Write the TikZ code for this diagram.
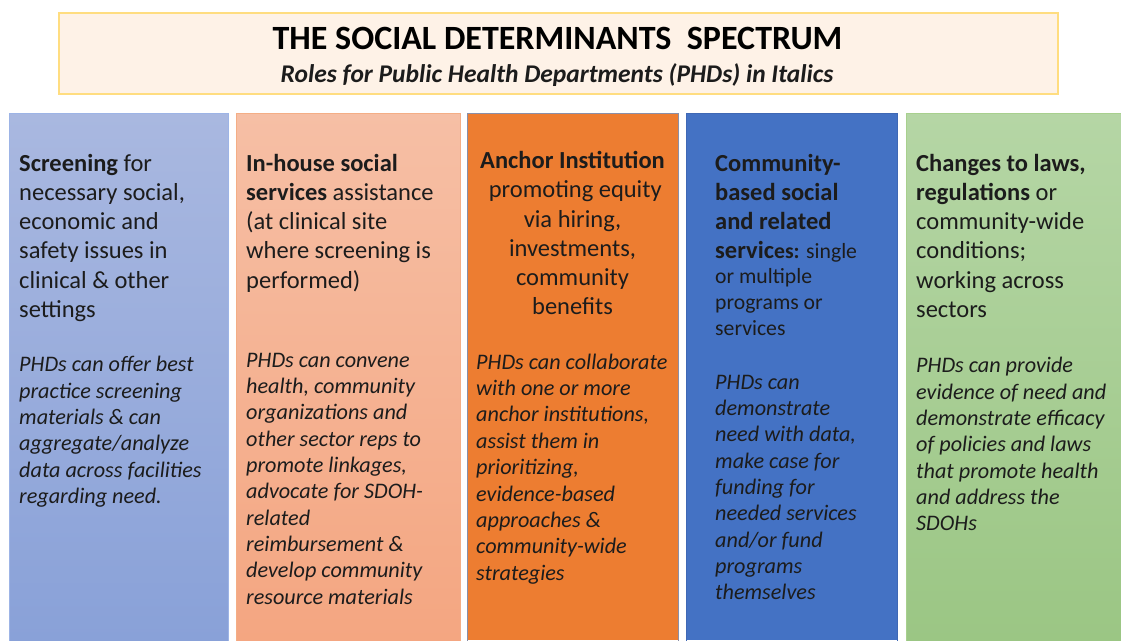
\documentclass[tikz,border=0pt]{standalone}
\usepackage{fontspec}
\setmainfont{Carlito}
\definecolor{txt}{HTML}{1C1C1C}
\definecolor{tfill}{HTML}{FEF2E7}
\definecolor{tline}{HTML}{FFDD80}
\definecolor{aTop}{HTML}{A9B8E0}
\definecolor{aBot}{HTML}{89A1D8}
\definecolor{aLine}{HTML}{9DB4E6}
\definecolor{bTop}{HTML}{F6BFA5}
\definecolor{bBot}{HTML}{F4A681}
\definecolor{bLine}{HTML}{F4AE86}
\definecolor{cFill}{HTML}{ED7D31}
\definecolor{cLine}{HTML}{8A8FA8}
\definecolor{dFill}{HTML}{4472C4}
\definecolor{dLine}{HTML}{3F68B5}
\definecolor{eTop}{HTML}{B5D6A5}
\definecolor{eBot}{HTML}{9BC684}
\definecolor{eLine}{HTML}{A8D08E}
\tikzset{
  hd/.style={font=\fontsize{24.5}{29.2}\selectfont, text=txt, inner sep=0pt, anchor=north west, align=left},
  sm/.style={font=\fontsize{21.7}{26}\selectfont, text=txt, inner sep=0pt, anchor=north west, align=left},
  it/.style={font=\fontsize{22.2}{26.35}\selectfont\itshape, text=txt, inner sep=0pt, anchor=north west, align=left},
  col/.style={line width=1pt}
}
\begin{document}
\begin{tikzpicture}[x=1pt,y=-1pt]
\useasboundingbox (0,0) rectangle (1121,640);
% title
\node[draw=tline, fill=tfill, line width=2pt, minimum width=999pt, minimum height=81pt, inner sep=0pt, anchor=north west] (title) at (58,12) {};
\node[font=\fontsize{34}{38}\selectfont\bfseries, text=black, inner sep=0pt, anchor=base] (t1) at (557.5,49.5) {THE SOCIAL DETERMINANTS\ \ SPECTRUM};
\node[font=\fontsize{25.5}{30}\selectfont\bfseries\itshape, text=txt, inner sep=0pt, anchor=base] (t2) at (557,82.5) {Roles for Public Health Departments (PHDs) in Italics};
% columns
\shade[top color=aTop, bottom color=aBot] (9.5,113.5) rectangle (228,640);
\draw[col, draw=aLine] (9.5,641) -- (9.5,113.5) -- (228,113.5) -- (228,641);
\shade[top color=bTop, bottom color=bBot] (236.5,113.5) rectangle (460,640);
\draw[col, draw=bLine] (236.5,641) -- (236.5,113.5) -- (460,113.5) -- (460,641);
\fill[cFill] (467,113.5) rectangle (678,640);
\draw[col, draw=cLine] (467,641) -- (467,113.5) -- (678,113.5) -- (678,641);
\fill[dFill] (686,113.5) rectangle (897,640);
\draw[col, draw=dLine] (686,641) -- (686,113.5) -- (897,113.5) -- (897,641);
\shade[top color=eTop, bottom color=eBot] (906,113.5) rectangle (1122,640);
\draw[col, draw=eLine] (906,641) -- (906,113.5) -- (1122,113.5);
% column 1
\node[hd] (c1h) at (19,150.6) {\strut\textbf{Screening} for\\necessary social,\\economic and\\safety issues in\\clinical \& other\\settings};
\node[it] (c1i) at (19,353) {\strut PHDs can offer best\\practice screening\\materials \& can\\aggregate/analyze\\data across facilities\\regarding need.};
% column 2
\node[hd] (c2h) at (246,150.6) {\strut\textbf{In-house social}\\\textbf{services} assistance\\(at clinical site\\where screening is\\performed)};
\node[it] (c2i) at (246,348.4) {\strut PHDs can convene\\health, community\\organizations and\\other sector reps to\\promote linkages,\\advocate for SDOH-\\related\\reimbursement \&\\develop community\\resource materials};
% column 3
\node[hd, anchor=north, align=center] (c3h) at (572.5,148) {\strut\textbf{Anchor Institution}\\\ promoting equity\\via hiring,\\investments,\\community\\benefits};
\node[it] (c3i) at (476,350.6) {\strut PHDs can collaborate\\with one or more\\anchor institutions,\\assist them in\\prioritizing,\\evidence-based\\approaches \&\\community-wide\\strategies};
% column 4
\node[hd] (c4h) at (715,150.6) {\strut\textbf{Community-}\\\textbf{based social}\\\textbf{and related}\\\textbf{servic}{\fontsize{21.7}{26}\selectfont\textbf{es:} single}};
\node[sm] (c4s) at (715,265.3) {\strut or multiple\\programs or\\services};
\node[it] (c4i) at (715,370.4) {\strut PHDs can\\demonstrate\\need with data,\\make case for\\funding for\\needed services\\and/or fund\\programs\\themselves};
% column 5
\node[hd] (c5h) at (916,150.6) {\strut\textbf{Changes to laws,}\\\textbf{regulations} or\\community-wide\\conditions;\\working across\\sectors};
\node[it] (c5i) at (916,354) {\strut PHDs can provide\\evidence of need and\\demonstrate efficacy\\of policies and laws\\that promote health\\and address the\\SDOHs};
\end{tikzpicture}
\end{document}
